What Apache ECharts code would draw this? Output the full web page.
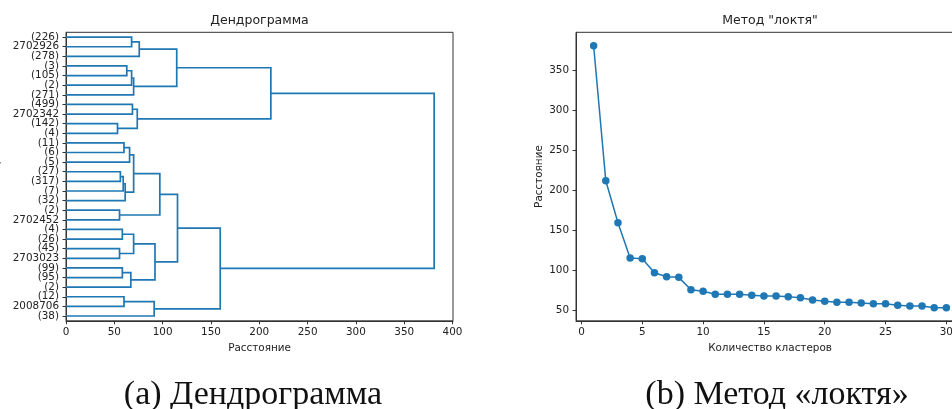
<!DOCTYPE html>
<html>
<head>
<meta charset="utf-8">
<script src="https://cdn.jsdelivr.net/npm/echarts@6/dist/echarts.min.js"></script>
<style>
  html, body { margin: 0; padding: 0; background: #fff; }
  #chart { width: 952px; height: 409px; }
</style>
</head>
<body>
<div id="chart"></div>
<script>
// Leaf labels of the truncated dendrogram, listed top to bottom
const leafLabels = ['(226)', '2702926', '(278)', '(3)', '(105)', '(2)', '(271)', '(499)', '2702342',
  '(142)', '(4)', '(11)', '(6)', '(5)', '(27)', '(317)', '(7)', '(32)', '(2)', '2702452', '(4)', '(26)',
  '(45)', '2703023', '(99)', '(95)', '(2)', '(12)', '2008706', '(38)'];

// Merge steps: nodes 0..29 are leaves, merge k creates node 30 + k
const mergeLeft  = [0, 30, 3, 32, 33, 31, 7, 9, 36, 35, 11, 40, 14, 42, 43, 41, 18, 45, 20, 22, 48, 24, 51, 50, 47, 27, 55, 54, 39];
const mergeRight = [1, 2, 4, 5, 6, 34, 8, 10, 37, 38, 12, 13, 15, 16, 17, 44, 19, 46, 21, 23, 49, 25, 26, 52, 53, 28, 29, 56, 57];
const mergeDist  = [67.9, 75.8, 62.9, 67.9, 70, 114.6, 68.75, 53.3, 73.75, 212, 60, 65.8, 56.25, 59.2, 61.25,
  70, 55.4, 97.1, 58.3, 55.4, 70, 58.3, 67.1, 92.1, 115.4, 60, 91.25, 159.6, 381];

// Elbow curve: linkage distance by number of clusters
const clusterCounts = [1, 2, 3, 4, 5, 6, 7, 8, 9, 10, 11, 12, 13, 14, 15, 16, 17, 18, 19, 20,
  21, 22, 23, 24, 25, 26, 27, 28, 29, 30];
const elbowDist = [381, 212, 159.6, 115.4, 114.6, 97.1, 92.1, 91.25, 75.8, 73.75, 70, 70, 70, 68.75,
  67.9, 67.9, 67.1, 65.8, 62.9, 61.25, 60, 60, 59.2, 58.3, 58.3, 56.25, 55.4, 55.4, 53.3, 53.3];

// Tick values
const distTicks = [0, 50, 100, 150, 200, 250, 300, 350, 400];
const countTicks = [0, 5, 10, 15, 20, 25, 30];
const elbowTicks = [50, 100, 150, 200, 250, 300, 350];

const BLUE = '#1f77b4';
const INK = '#222';
const AXIS = '#333';
const SANS = '"DejaVu Sans", sans-serif';

// Node placement in leaf units (leaf i sits at 5 + 10 i) and merge heights
const nodePos = leafLabels.map((_, i) => 5 + 10 * i);
const nodeHeight = leafLabels.map(() => 0);
const links = [];
mergeLeft.forEach((a, k) => {
  const b = mergeRight[k];
  const h = mergeDist[k];
  links.push([nodePos[a], nodePos[b], nodeHeight[a], nodeHeight[b], h]);
  nodePos.push((nodePos[a] + nodePos[b]) / 2);
  nodeHeight.push(h);
});

const elbowData = clusterCounts.map((c, i) => [c, elbowDist[i]]);

const tickStyle = { show: true, length: 3.5, lineStyle: { color: AXIS, width: 1 } };
const labelStyle = { color: INK, fontSize: 10.4, fontFamily: SANS };

const chart = echarts.init(document.getElementById('chart'), null, { renderer: 'canvas' });
chart.setOption({
  animation: false,
  backgroundColor: '#fff',
  grid: [
    { left: 66, top: 32.3, width: 387, height: 288.5, show: true, borderColor: AXIS, borderWidth: 1,
      containLabel: false, outerBoundsMode: 'none' },
    { left: 576, top: 32.3, width: 388, height: 288.5, show: true, borderColor: AXIS, borderWidth: 1,
      containLabel: false, outerBoundsMode: 'none' }
  ],
  xAxis: [
    { type: 'value', gridIndex: 0, min: 0, max: 400.5,
      axisLine: { show: true, onZero: false, lineStyle: { color: AXIS } },
      axisTick: Object.assign({ customValues: distTicks }, tickStyle),
      axisLabel: Object.assign({ customValues: distTicks, margin: 6 }, labelStyle),
      splitLine: { show: false },
      name: 'Расстояние', nameLocation: 'middle', nameGap: 22.5,
      nameTextStyle: { color: INK, fontSize: 10.4, fontFamily: SANS } },
    { type: 'value', gridIndex: 1, min: -0.45, max: 31.45,
      axisLine: { show: true, onZero: false, lineStyle: { color: AXIS } },
      axisTick: Object.assign({ customValues: countTicks }, tickStyle),
      axisLabel: Object.assign({ customValues: countTicks, margin: 6 }, labelStyle),
      splitLine: { show: false },
      name: 'Количество кластеров', nameLocation: 'middle', nameGap: 22.5,
      nameTextStyle: { color: INK, fontSize: 10.4, fontFamily: SANS } }
  ],
  yAxis: [
    { type: 'category', gridIndex: 0, data: leafLabels, inverse: true, boundaryGap: true,
      axisLine: { show: true, onZero: false, lineStyle: { color: AXIS } },
      axisTick: Object.assign({ alignWithLabel: true, interval: 0 }, tickStyle),
      axisLabel: Object.assign({ interval: 0, margin: 7, hideOverlap: false }, labelStyle),
      splitLine: { show: false } },
    { type: 'value', gridIndex: 0, min: 0, max: 300, inverse: true, show: false,
      splitLine: { show: false } },
    { type: 'value', gridIndex: 1, min: 36.9, max: 397.8,
      axisLine: { show: true, onZero: false, lineStyle: { color: AXIS } },
      axisTick: Object.assign({ customValues: elbowTicks }, tickStyle),
      axisLabel: Object.assign({ customValues: elbowTicks, margin: 7 }, labelStyle),
      splitLine: { show: false },
      name: 'Расстояние', nameLocation: 'middle', nameGap: 32, nameRotate: 90,
      nameTextStyle: { color: INK, fontSize: 10.4, fontFamily: SANS } }
  ],
  series: [
    {
      type: 'custom',
      xAxisIndex: 0,
      yAxisIndex: 1,
      data: links,
      silent: true,
      renderItem: function (params, api) {
        const ya = api.value(0), yb = api.value(1);
        const ha = api.value(2), hb = api.value(3), h = api.value(4);
        return {
          type: 'polyline',
          shape: { points: [api.coord([ha, ya]), api.coord([h, ya]), api.coord([h, yb]), api.coord([hb, yb])] },
          style: { stroke: BLUE, lineWidth: 1.7, fill: null }
        };
      },
      encode: { x: 4, y: 0 }
    },
    {
      type: 'line',
      xAxisIndex: 1,
      yAxisIndex: 2,
      data: elbowData,
      clip: false,
      symbol: 'circle',
      symbolSize: 7.5,
      showSymbol: true,
      lineStyle: { color: BLUE, width: 1.5 },
      itemStyle: { color: BLUE },
      emphasis: { disabled: true }
    }
  ],
  graphic: [
    { type: 'text', x: 259.5, y: 20.5, silent: true,
      style: { text: 'Дендрограмма', align: 'center', verticalAlign: 'middle', fill: INK, fontSize: 12.5, fontFamily: SANS } },
    { type: 'text', x: 770, y: 20.5, silent: true,
      style: { text: 'Метод "локтя"', align: 'center', verticalAlign: 'middle', fill: INK, fontSize: 12.5, fontFamily: SANS } },
    { type: 'text', x: 1.5, y: 176, rotation: Math.PI / 2, silent: true,
      style: { text: 'Кластеры', align: 'center', verticalAlign: 'bottom', fill: INK, fontSize: 10.4, fontFamily: SANS } },
    { type: 'text', x: 253, y: 395, silent: true,
      style: { text: '(a) Дендрограмма', align: 'center', verticalAlign: 'middle', fill: '#111', fontSize: 34, fontFamily: '"Liberation Serif", serif' } },
    { type: 'text', x: 777, y: 395, silent: true,
      style: { text: '(b) Метод «локтя»', align: 'center', verticalAlign: 'middle', fill: '#111', fontSize: 34, fontFamily: '"Liberation Serif", serif' } }
  ]
});
</script>
</body>
</html>
